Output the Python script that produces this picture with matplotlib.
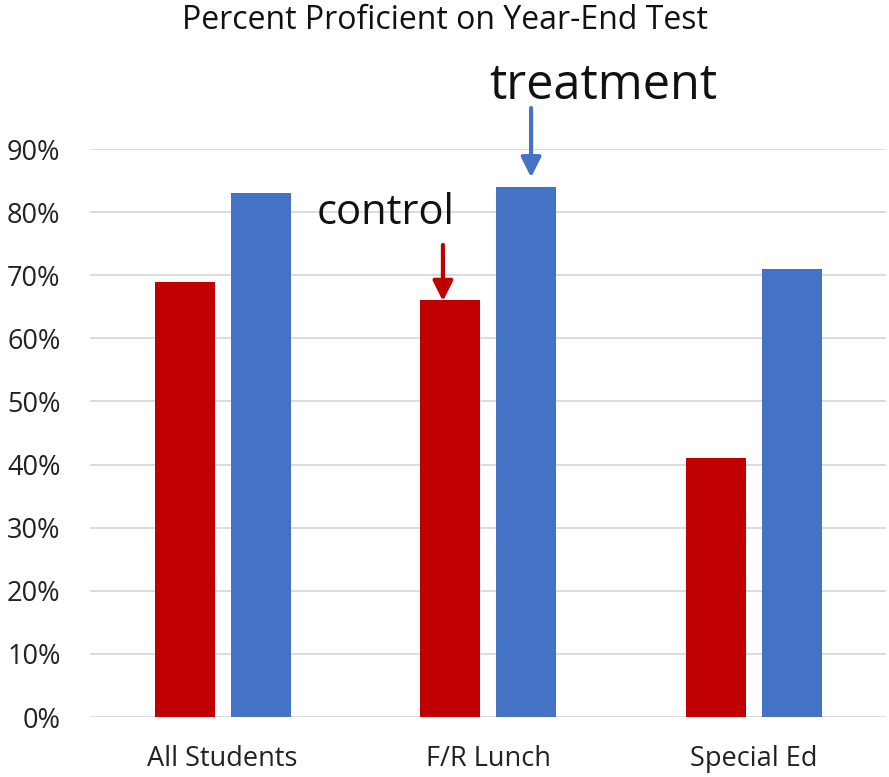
import matplotlib.pyplot as plt
import numpy as np

categories = ["All Students", "F/R Lunch", "Special Ed"]
control = [69, 66, 41]
treatment = [83, 84, 71]
yticks = [0, 10, 20, 30, 40, 50, 60, 70, 80, 90]

plt.rcParams['font.family'] = ['Open Sans', 'DejaVu Sans']

fig = plt.figure(figsize=(8.89, 7.77), dpi=100)
ax = fig.add_axes([0.101, 0.0772, 0.896, 0.731])

x = np.arange(len(categories))
w = 0.226
ax.bar(x - 0.143, control, w, color="#C00000", zorder=3)
ax.bar(x + 0.143, treatment, w, color="#4472C4", zorder=3)

ax.set_xlim(-0.5, 2.5)
ax.set_ylim(0, 90)
ax.set_yticks(yticks)
ax.set_yticklabels([f"{t}%" for t in yticks], fontsize=19.5, color="#222222")
ax.set_xticks(x)
ax.set_xticklabels(categories, fontsize=19.5, color="#222222")
ax.tick_params(length=0, axis="y", pad=21)
ax.tick_params(length=0, axis="x", pad=20)
ax.grid(axis="y", color="#D9D9D9", linewidth=1.3, zorder=0)
ax.set_axisbelow(True)
for s in ax.spines.values():
    s.set_visible(False)

# annotations
ax.annotate("", xy=(1.162, 85.5), xytext=(1.162, 96.5),
            arrowprops=dict(arrowstyle="-|>,head_width=0.6,head_length=1.2",
                            color="#4472C4", lw=3, shrinkA=0, shrinkB=0),
            annotation_clip=False)
ax.annotate("", xy=(0.83, 65.9), xytext=(0.83, 74.8),
            arrowprops=dict(arrowstyle="-|>,head_width=0.6,head_length=1.2",
                            color="#C00000", lw=3, shrinkA=0, shrinkB=0),
            annotation_clip=False)
ax.text(1.433, 99.9, "treatment", fontsize=35, ha="center", va="center",
        color="#111111", clip_on=False)
ax.text(0.615, 79.9, "control", fontsize=30, ha="center", va="center",
        color="#111111", clip_on=False)

fig.suptitle("Percent Proficient on Year-End Test", y=0.974, va="center",
             fontsize=23, color="#111111")

fig.savefig("out.png", dpi=100)
